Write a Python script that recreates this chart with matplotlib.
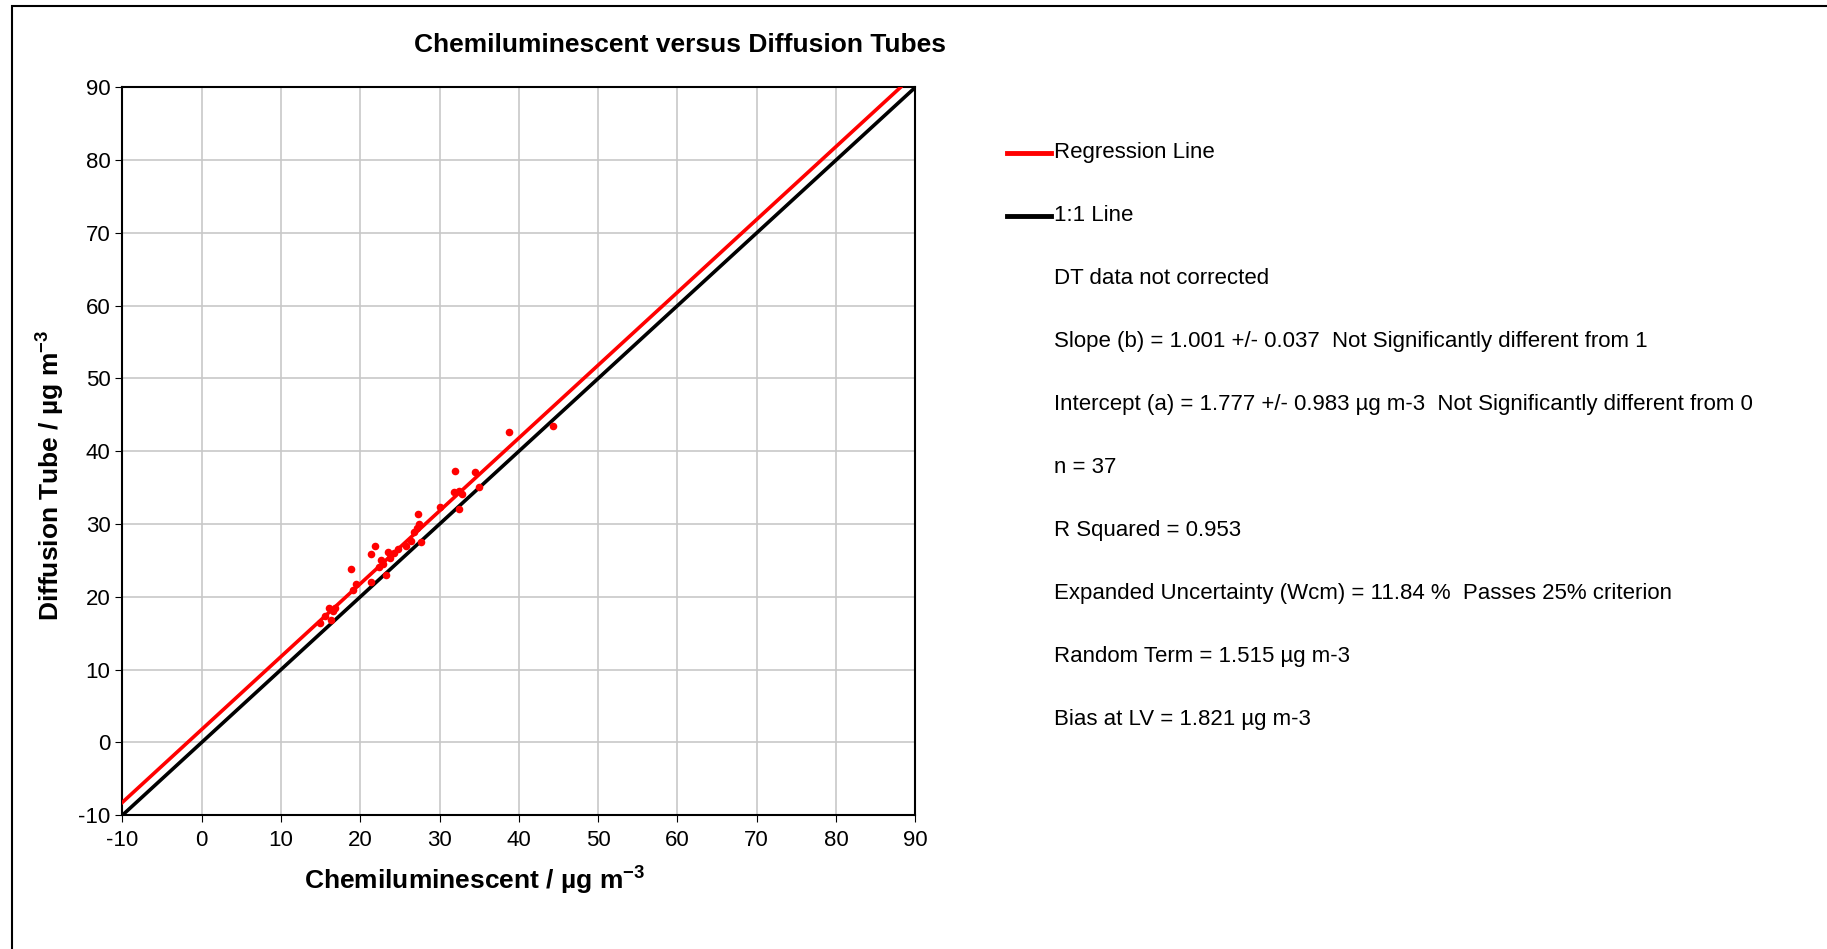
import numpy as np
import matplotlib.pyplot as plt
from matplotlib.patches import Rectangle
from matplotlib.lines import Line2D

plt.rcParams['font.family'] = ['Liberation Sans', 'DejaVu Sans']
plt.rcParams['mathtext.fontset'] = 'custom'
plt.rcParams['mathtext.rm'] = 'Liberation Sans'
plt.rcParams['mathtext.bf'] = 'Liberation Sans:bold'
plt.rcParams['axes.unicode_minus'] = False

# Chemiluminescent (x) vs diffusion tube (y), ug m-3
chemi = [14.9, 15.6, 16.1, 16.8, 16.3, 18.8, 19.5, 19.1, 21.4, 21.9,
         21.3, 22.6, 22.9, 22.4, 23.2, 23.5, 24.7, 25.8, 26.4, 27.6,
         26.8, 27.1, 27.3, 30.1, 32.4, 31.8, 32.4, 32.8, 31.9, 34.5,
         35.0, 38.7, 44.3, 24.2, 23.8, 27.4, 16.5]
dtube = [16.4, 17.3, 18.4, 18.4, 16.8, 23.8, 21.7, 21.0, 22.0, 27.0,
         25.9, 25.1, 24.5, 24.1, 23.0, 26.1, 26.6, 27.0, 27.7, 27.5,
         28.9, 29.4, 31.4, 32.3, 32.1, 34.4, 34.5, 34.1, 37.3, 37.2,
         35.1, 42.6, 43.5, 26.0, 25.4, 30.0, 18.0]

slope = 1.001
intercept = 1.777

stats_lines = [
    "DT data not corrected",
    "Slope (b) = 1.001 +/- 0.037  Not Significantly different from 1",
    "Intercept (a) = 1.777 +/- 0.983 \u00b5g m-3  Not Significantly different from 0",
    "n = 37",
    "R Squared = 0.953",
    "Expanded Uncertainty (Wcm) = 11.84 %  Passes 25% criterion",
    "Random Term = 1.515 \u00b5g m-3",
    "Bias at LV = 1.821 \u00b5g m-3",
]

fig = plt.figure(figsize=(18.27, 9.49), dpi=100)
ax = fig.add_axes([0.067, 0.141, 0.434, 0.767])

# 1:1 and regression lines
x11 = np.array([-10, 90])
ax.plot(x11, x11, color='black', lw=2.6, zorder=3)
x_end = (90 - intercept) / slope
xr = np.array([-10, x_end])
ax.plot(xr, slope * xr + intercept, color='#ff0000', lw=2.6, zorder=4)

ax.scatter(chemi, dtube, s=30, color='#ff0000', zorder=5, linewidths=0)

ax.set_xlim(-10, 90)
ax.set_ylim(-10, 90)
ax.set_xticks(np.arange(-10, 91, 10))
ax.set_yticks(np.arange(-10, 91, 10))
ax.grid(True, color='#c8c8c8', lw=1.2)
ax.set_axisbelow(True)
ax.tick_params(labelsize=16, length=5, direction='out', color='black')
ax.tick_params(axis='x', pad=6)
for s in ax.spines.values():
    s.set_color('black')
    s.set_linewidth(1.5)

fig.text(0.372, 0.953, "Chemiluminescent versus Diffusion Tubes", fontsize=19,
         fontweight='bold', ha='center', va='center')
fig.text(0.26, 0.073, r"Chemiluminescent / µg m$^{\mathbf{-3}}$", fontsize=19,
         fontweight='bold', ha='center', va='center')
fig.text(0.027, 0.499, r"Diffusion Tube / µg m$^{\mathbf{-3}}$", fontsize=19,
         fontweight='bold', ha='center', va='center', rotation=90)

# legend-like text block on the right
y0 = 0.839
dy = 0.0663
tx = 0.577
for i, (lab, col) in enumerate([("Regression Line", '#ff0000'), ("1:1 Line", 'black')]):
    yy = y0 - i * dy
    fig.add_artist(Line2D([0.551, 0.575], [yy, yy], color=col, lw=3.5,
                          transform=fig.transFigure))
    fig.text(tx, yy, lab, fontsize=16, va='center', ha='left')
for i, t in enumerate(stats_lines):
    fig.text(tx, y0 - (i + 2) * dy, t, fontsize=16, va='center', ha='left')

# chart border
fig.add_artist(Rectangle((0.0064, -0.02), 1.1, 1.014, fill=False,
                         edgecolor='black', lw=1.5, transform=fig.transFigure))

fig.savefig("out.png", dpi=100)
